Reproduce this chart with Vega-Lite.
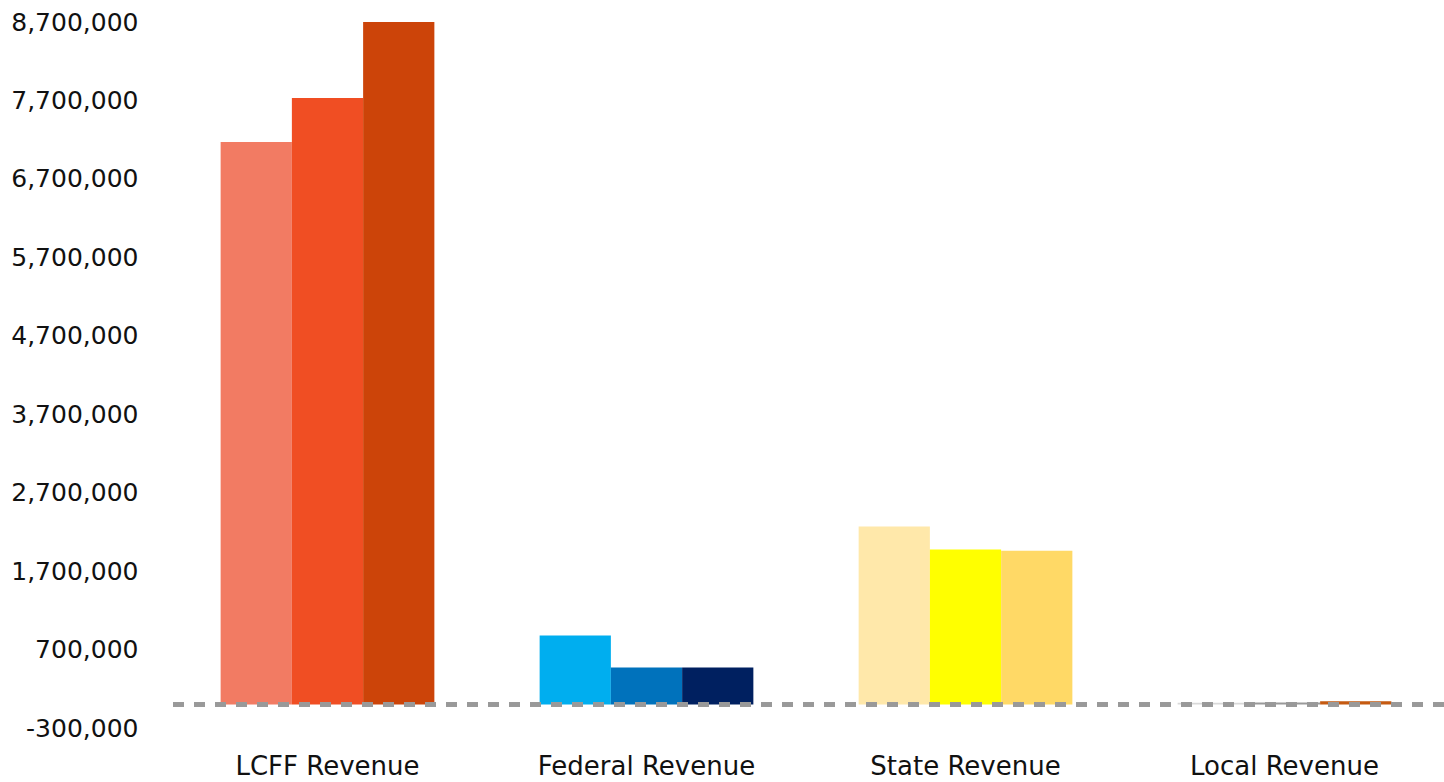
{
  "$schema": "https://vega.github.io/schema/vega-lite/v6.json",
  "autosize": {"type": "none"},
  "padding": {"left": 168, "top": 22, "right": 0, "bottom": 55},
  "width": 1276,
  "height": 706,
  "background": "white",
  "config": {
    "view": {"stroke": null},
    "font": "DejaVu Sans",
    "axis": {"labelFont": "DejaVu Sans", "labelColor": "#111111", "labelFontSize": 25, "domain": false, "ticks": false, "grid": false, "title": null, "labelLimit": 0}
  },
  "data": {
    "values": [
      {"category": "LCFF Revenue", "series": "1", "key": "LCFF Revenue 1", "value": 7170000},
      {"category": "LCFF Revenue", "series": "2", "key": "LCFF Revenue 2", "value": 7730000},
      {"category": "LCFF Revenue", "series": "3", "key": "LCFF Revenue 3", "value": 8700000},
      {"category": "Federal Revenue", "series": "1", "key": "Federal Revenue 1", "value": 880000},
      {"category": "Federal Revenue", "series": "2", "key": "Federal Revenue 2", "value": 470000},
      {"category": "Federal Revenue", "series": "3", "key": "Federal Revenue 3", "value": 470000},
      {"category": "State Revenue", "series": "1", "key": "State Revenue 1", "value": 2270000},
      {"category": "State Revenue", "series": "2", "key": "State Revenue 2", "value": 1975000},
      {"category": "State Revenue", "series": "3", "key": "State Revenue 3", "value": 1960000},
      {"category": "Local Revenue", "series": "1", "key": "Local Revenue 1", "value": 22000},
      {"category": "Local Revenue", "series": "2", "key": "Local Revenue 2", "value": 25000},
      {"category": "Local Revenue", "series": "3", "key": "Local Revenue 3", "value": 40000}
    ]
  },
  "layer": [
    {
      "mark": {"type": "bar"},
      "encoding": {
        "x": {
          "field": "category", "type": "nominal", "sort": null,
          "scale": {"paddingInner": 0.33, "paddingOuter": 0.165},
          "axis": {"labelAngle": 0, "labelPadding": 38, "labelBaseline": "middle", "labelFontSize": 26}
        },
        "xOffset": {"field": "series", "type": "nominal", "scale": {"paddingInner": 0, "paddingOuter": 0}},
        "y": {
          "field": "value", "type": "quantitative",
          "scale": {"domain": [-300000, 8700000], "nice": false, "zero": false},
          "axis": {"values": [-300000, 700000, 1700000, 2700000, 3700000, 4700000, 5700000, 6700000, 7700000, 8700000], "format": ",d", "labelExpr": "replace(datum.label, '−', '-')", "labelPadding": 30}
        },
        "color": {
          "field": "key", "type": "nominal", "legend": null,
          "scale": {
            "domain": ["LCFF Revenue 1", "LCFF Revenue 2", "LCFF Revenue 3", "Federal Revenue 1", "Federal Revenue 2", "Federal Revenue 3", "State Revenue 1", "State Revenue 2", "State Revenue 3", "Local Revenue 1", "Local Revenue 2", "Local Revenue 3"],
            "range": ["#F27B63", "#F04E23", "#CC4409", "#00AEEF", "#0072BC", "#002060", "#FFE8AA", "#FFFF00", "#FFD966", "#D9D9D9", "#999999", "#C55A11"]
          }
        }
      }
    },
    {
      "mark": {"type": "rule", "color": "#999999", "strokeWidth": 4, "strokeDash": [11, 10]},
      "encoding": {"y": {"datum": 0}}
    }
  ]
}
